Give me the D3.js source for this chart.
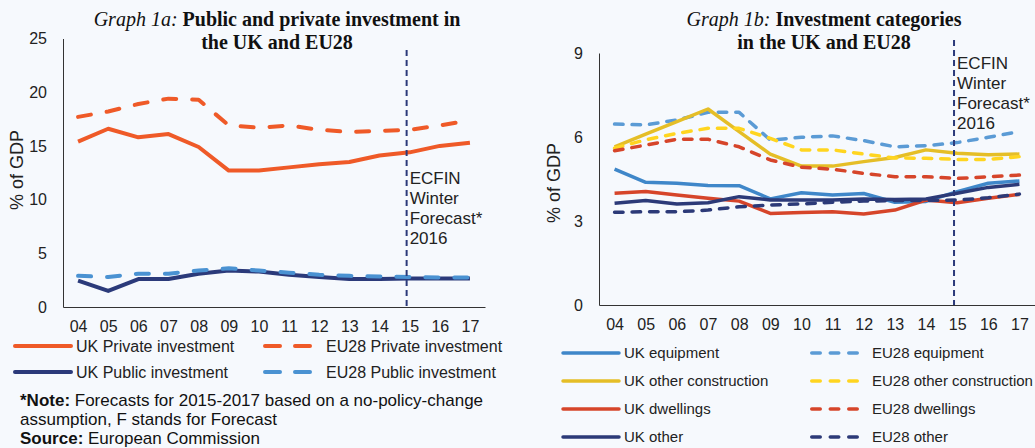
<!DOCTYPE html>
<html>
<head>
<meta charset="utf-8">
<script src="https://cdn.jsdelivr.net/npm/d3@7"></script>
<style>
  html, body { margin: 0; padding: 0; background: #f6f9fd; }
  svg { display: block; }
</style>
</head>
<body>
<div id="viscontainer"></div>
<script>
// ---- data ----
const years = ["04", "05", "06", "07", "08", "09", "10", "11", "12", "13", "14", "15", "16", "17"];

// Graph 1a
const ukPrivate   = [15.4, 16.6, 15.8, 16.1, 14.9, 12.7, 12.7, 13.0, 13.3, 13.5, 14.1, 14.4, 15.0, 15.3];
const euPrivate   = [17.7, 18.2, 18.9, 19.4, 19.3, 16.9, 16.7, 16.9, 16.5, 16.3, 16.4, 16.5, 16.9, 17.4];
const ukPublic    = [2.45, 1.5, 2.6, 2.6, 3.1, 3.4, 3.3, 3.0, 2.8, 2.6, 2.6, 2.65, 2.65, 2.65];
const euPublic    = [2.9, 2.8, 3.1, 3.1, 3.4, 3.6, 3.4, 3.2, 3.0, 2.9, 2.85, 2.8, 2.75, 2.75];
const ticksA      = [0, 5, 10, 15, 20, 25];

// Graph 1b
const ukEquipment     = [4.85, 4.38, 4.35, 4.27, 4.26, 3.79, 4.01, 3.93, 3.98, 3.67, 3.7, 4.05, 4.35, 4.43];
const euEquipment     = [6.46, 6.43, 6.61, 6.88, 6.88, 5.89, 5.99, 6.04, 5.87, 5.65, 5.69, 5.8, 5.99, 6.19];
const ukConstruction  = [5.65, 6.1, 6.55, 7.0, 6.19, 5.39, 4.96, 4.96, 5.12, 5.27, 5.54, 5.42, 5.37, 5.39];
const euConstruction  = [5.6, 5.9, 6.13, 6.31, 6.31, 5.95, 5.54, 5.54, 5.39, 5.25, 5.24, 5.2, 5.2, 5.3];
const ukDwellings     = [3.99, 4.05, 3.93, 3.81, 3.71, 3.27, 3.3, 3.33, 3.25, 3.39, 3.75, 3.65, 3.81, 3.95];
const euDwellings     = [5.51, 5.71, 5.92, 5.92, 5.65, 5.18, 4.92, 4.85, 4.7, 4.58, 4.58, 4.52, 4.58, 4.64];
const ukOther         = [3.63, 3.73, 3.61, 3.65, 3.87, 3.75, 3.75, 3.75, 3.79, 3.77, 3.79, 3.99, 4.2, 4.31];
const euOther         = [3.31, 3.33, 3.33, 3.39, 3.51, 3.57, 3.61, 3.67, 3.71, 3.73, 3.73, 3.75, 3.83, 3.96];
const ticksB          = [0, 3, 6, 9];

// position of the forecast marker (in year-index units)
const forecastIndex = 10.9;
const forecastText = ["ECFIN", "Winter", "Forecast*", "2016"];

// ---- drawing ----
const width = 1035;
const height = 448;
const font = "Liberation Sans, Arial, sans-serif";
const serif = "Liberation Serif, Times New Roman, serif";
const axisColor = "#333333";

const svg = d3.select("#viscontainer")
  .append("svg")
  .attr("width", width)
  .attr("height", height)
  .style("background", "#f6f9fd");

function drawPanel(cfg) {

  const g = svg.append("g");

  const x = d3.scaleLinear()
    .domain([-0.5, years.length - 0.5])
    .range([cfg.left, cfg.right]);

  const y = d3.scaleLinear()
    .domain([0, cfg.max])
    .range([cfg.bottom, cfg.top]);

  // title
  const title = g.append("text")
    .attr("x", cfg.titleX)
    .attr("y", 26)
    .attr("text-anchor", "middle")
    .attr("font-family", serif)
    .attr("font-size", 20)
    .attr("fill", "#111");
  title.append("tspan").attr("font-style", "italic").text(cfg.titleItalic + " ");
  title.append("tspan").attr("font-weight", "bold").text(cfg.title1);
  g.append("text")
    .attr("x", cfg.titleX)
    .attr("y", 49)
    .attr("text-anchor", "middle")
    .attr("font-family", serif)
    .attr("font-size", 20)
    .attr("font-weight", "bold")
    .attr("fill", "#111")
    .text(cfg.title2);

  // y axis
  const yAxis = g.append("g")
    .attr("transform", `translate(${cfg.left},0)`)
    .call(d3.axisLeft(y).tickValues(cfg.ticks).tickSize(0).tickSizeOuter(0).tickPadding(16));
  yAxis.select(".domain").attr("stroke", axisColor);
  yAxis.selectAll("text")
    .attr("font-family", font)
    .attr("font-size", 16)
    .attr("fill", "#222");

  // x axis
  const xAxis = g.append("g")
    .attr("transform", `translate(0,${cfg.bottom})`)
    .call(d3.axisBottom(x).tickValues(d3.range(years.length)).tickFormat(i => years[i])
      .tickSize(0).tickSizeOuter(0).tickPadding(14));
  xAxis.select(".domain").attr("stroke", axisColor);
  xAxis.selectAll("text")
    .attr("font-family", font)
    .attr("font-size", 16)
    .attr("fill", "#222");

  // y label
  g.append("text")
    .attr("transform", `translate(${cfg.labelX},${cfg.labelY}) rotate(-90)`)
    .attr("text-anchor", "middle")
    .attr("font-family", font)
    .attr("font-size", 18)
    .attr("fill", "#222")
    .text("% of GDP");

  // series
  const line = d3.line()
    .x((d, i) => x(i))
    .y(d => y(d));

  cfg.series.forEach(s => {
    g.append("path")
      .attr("d", line(s.values))
      .attr("fill", "none")
      .attr("stroke", s.color)
      .attr("stroke-width", cfg.strokeWidth)
      .attr("stroke-linejoin", "round")
      .attr("stroke-linecap", s.dashed ? "round" : "butt")
      .attr("stroke-dasharray", s.dashed ? cfg.dash : null);
  });

  // forecast marker
  g.append("line")
    .attr("x1", x(forecastIndex))
    .attr("x2", x(forecastIndex))
    .attr("y1", cfg.markerTop)
    .attr("y2", cfg.bottom)
    .attr("stroke", "#2b3a7a")
    .attr("stroke-width", 2)
    .attr("stroke-dasharray", "6,4");

  g.append("text")
    .attr("font-family", font)
    .attr("font-size", 17)
    .attr("fill", "#222")
    .selectAll("tspan")
    .data(forecastText)
    .join("tspan")
    .attr("x", x(forecastIndex) + 3)
    .attr("y", (d, i) => cfg.noteY + i * 20)
    .text(d => d);

  // legend
  const leg = g.append("g")
    .attr("font-family", font)
    .attr("font-size", cfg.legendFont)
    .attr("fill", "#222");

  cfg.series.forEach((s, i) => {
    const col = s.dashed ? 1 : 0;
    const row = cfg.legendRows[i];
    const lx = cfg.legendX[col];
    const len = cfg.legendLen[col];
    const ly = cfg.legendY + row * cfg.legendStep;
    leg.append("line")
      .attr("x1", lx + (s.dashed ? cfg.legendDashInset : 0))
      .attr("x2", lx + len)
      .attr("y1", ly)
      .attr("y2", ly)
      .attr("stroke", s.color)
      .attr("stroke-width", cfg.strokeWidth)
      .attr("stroke-linecap", "round")
      .attr("stroke-dasharray", s.dashed ? cfg.legendDash : null);
    leg.append("text")
      .attr("x", lx + len + cfg.legendGap[col])
      .attr("y", ly)
      .attr("dy", "0.35em")
      .text(s.name);
  });
}

drawPanel({
  left: 63, right: 485, top: 38.5, bottom: 307, max: 25,
  ticks: ticksA,
  titleX: 277, titleItalic: "Graph 1a:", title1: "Public and private investment in", title2: "the UK and EU28",
  labelX: 23, labelY: 170,
  strokeWidth: 4, dash: "13,16",
  markerTop: 50, noteY: 184,
  series: [
    { name: "UK Private investment", values: ukPrivate, color: "#ef5a28", dashed: false },
    { name: "EU28 Private investment", values: euPrivate, color: "#ef5a28", dashed: true },
    { name: "UK Public investment", values: ukPublic, color: "#2b3a7a", dashed: false },
    { name: "EU28 Public investment", values: euPublic, color: "#4a92d2", dashed: true }
  ],
  legendRows: [0, 0, 1, 1],
  legendX: [15, 263], legendY: 346, legendStep: 26,
  legendLen: [56, 50], legendGap: [5, 13], legendDashInset: 2, legendDash: "15,15",
  legendFont: 16
});

drawPanel({
  left: 599, right: 1035, top: 53, bottom: 305, max: 9,
  ticks: ticksB,
  titleX: 824, titleItalic: "Graph 1b:", title1: "Investment categories", title2: "in the UK and EU28",
  labelX: 560, labelY: 183,
  strokeWidth: 3.5, dash: "8.5,9",
  markerTop: 40, noteY: 69,
  series: [
    { name: "UK equipment", values: ukEquipment, color: "#3f87c9", dashed: false },
    { name: "EU28 equipment", values: euEquipment, color: "#5b9bd5", dashed: true },
    { name: "UK other construction", values: ukConstruction, color: "#e5be27", dashed: false },
    { name: "EU28 other construction", values: euConstruction, color: "#ffd520", dashed: true },
    { name: "UK dwellings", values: ukDwellings, color: "#d6452a", dashed: false },
    { name: "EU28 dwellings", values: euDwellings, color: "#d6452a", dashed: true },
    { name: "UK other", values: ukOther, color: "#2c3a78", dashed: false },
    { name: "EU28 other", values: euOther, color: "#2c3a78", dashed: true }
  ],
  legendRows: [0, 0, 1, 1, 2, 2, 3, 3],
  legendX: [563, 810], legendY: 353, legendStep: 28,
  legendLen: [56, 49], legendGap: [5, 13], legendDashInset: 1.75, legendDash: "8.5,10",
  legendFont: 15
});

// notes under graph 1a
const notes = svg.append("g")
  .attr("font-family", font)
  .attr("font-size", 17)
  .attr("fill", "#111");

const n1 = notes.append("text").attr("x", 20).attr("y", 406);
n1.append("tspan").attr("font-weight", "bold").text("*Note:");
n1.append("tspan").text(" Forecasts for 2015-2017 based on a no-policy-change");
notes.append("text").attr("x", 20).attr("y", 425).text("assumption, F stands for Forecast");
const n3 = notes.append("text").attr("x", 20).attr("y", 444);
n3.append("tspan").attr("font-weight", "bold").text("Source:");
n3.append("tspan").text(" European Commission");
</script>
</body>
</html>
